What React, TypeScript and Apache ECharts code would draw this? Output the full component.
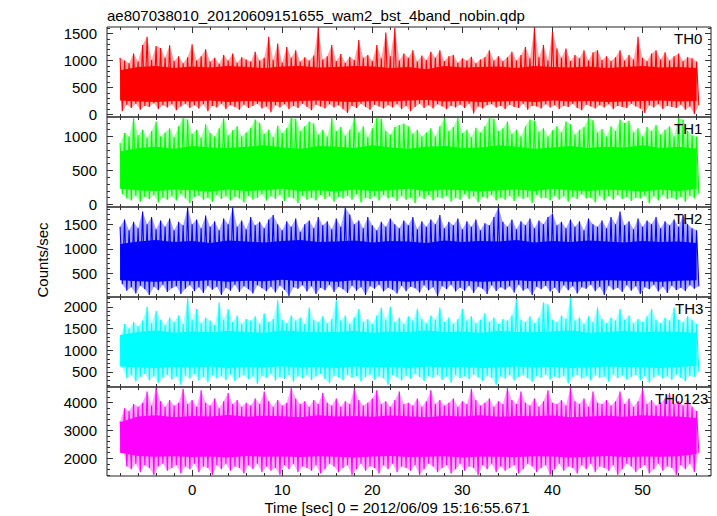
import React, { useEffect, useRef } from "react";
import * as echarts from "echarts";

const TITLE = "ae807038010_20120609151655_wam2_bst_4band_nobin.qdp";
const X_TITLE = "Time [sec] 0 = 2012/06/09 15:16:55.671";
const Y_TITLE = "Counts/sec";

// spike bins: first bin at -8 s, 0.5 s apart (peak at bin start, trough a quarter later)
const T_START = -8;
const T_STEP = 0.5;
// dense core band edges, read every 2 s
const CORE_START = -8;
const CORE_STEP = 2;

const X_MIN = -9.45;
const X_MAX = 57.6;
const X_TICKS = [0, 10, 20, 30, 40, 50];
const X_MINOR = [-8, -6, -4, -2, 2, 4, 6, 8, 12, 14, 16, 18, 22, 24, 26, 28, 32, 34, 36, 38, 42, 44, 46, 48, 52, 54, 56];

const BANDS = ["TH0", "TH1", "TH2", "TH3", "TH0123"];
const COLORS = ["#ff0000", "#00ff00", "#0000ff", "#00ffff", "#ff00ff"];
const Y_MIN = [-46, -37, 20, 150, 1360];
const Y_MAX = [1620, 1287, 1853, 2225, 4565];
const Y_TICKS = [
  [0, 500, 1000, 1500],
  [0, 500, 1000],
  [500, 1000, 1500],
  [500, 1000, 1500, 2000],
  [2000, 3000, 4000],
];
const Y_MINOR_STEP = [100, 100, 100, 100, 200];

const TH0_HI = [1050, 1000, 950, 1130, 980, 1285, 1440, 1010, 1270, 1230, 1050, 1280, 990, 1080, 950, 1060,
  1300, 1000, 1080, 1210, 980, 1050, 940, 1100, 1000, 1130, 960, 1060, 1020, 980, 1160, 1000,
  1050, 1440, 1010, 1315, 960, 1250, 1050, 1190, 980, 1060, 1000, 1090, 1606, 1020, 1080, 1285,
  990, 1120, 960, 1070, 1010, 1380, 1050, 1100, 990, 1285, 1040, 1520, 1080, 1606, 1000, 1130,
  1050, 1190, 980, 1090, 1010, 1160, 1050, 1190, 990, 1080, 1100, 960, 1040, 1000, 1070, 950,
  1020, 1060, 1190, 1000, 1080, 990, 1060, 1160, 1000, 1100, 1250, 1040, 1606, 1060, 1285, 1000,
  1530, 1220, 1050, 1220, 990, 1100, 1040, 1190, 1000, 1150, 1190, 1010, 1080, 990, 1060, 1190,
  1000, 1100, 1020, 1440, 1050, 990, 1130, 1190, 1020, 1150, 1000, 1080, 1130, 990, 1060, 1040, 980];
const TH0_LO = [60, 180, 120, 200, 90, 160, 140, 210, 100, 170, 130, 190, 80, 150, 200, 120,
  170, 110, 190, 60, 160, 130, 200, 100, 170, 140, 90, 180, 120, 160, 200, 110,
  150, 40, 170, 130, 190, 100, 160, 120, 200, 140, 80, 180, 150, 110, 190, 130,
  170, 100, 30, 160, 120, 200, 140, 90, 180, 150, 110, 170, 130, 190, 100, 160,
  60, 140, 200, 120, 170, 110, 190, 150, 100, 160, 130, 180, 120, 200, 20, 150,
  110, 170, 190, 130, 160, 100, 180, 140, 120, 200, 90, 160, 150, 110, 190, 130,
  170, 100, 160, 140, 200, 120, 80, 180, 150, 110, 170, 130, 190, 100, 160, 140,
  120, 200, 150, 110, 30, 170, 130, 190, 100, 160, 140, 120, 180, 90, 150, 10, 170];
const TH0_CORE_HI = [820, 880, 900, 860, 890, 870, 900, 880, 860, 890, 900, 870, 880, 900, 890, 860, 880,
  840, 900, 870, 880, 890, 860, 900, 880, 870, 890, 860, 880, 900, 870, 880, 860];
const TH0_CORE_LO = [260, 240, 230, 250, 240, 260, 230, 250, 240, 230, 250, 260, 240, 230, 250, 240, 260,
  270, 240, 250, 230, 240, 250, 230, 260, 240, 250, 230, 240, 250, 260, 240, 250];

const TH1_HI = [900, 1050, 1000, 1270, 1020, 1100, 980, 1080, 1220, 1000, 1060, 1120, 990, 1150, 1277, 1250,
  1040, 1100, 980, 1180, 1050, 1000, 1120, 1270, 1020, 1090, 1150, 1000, 1060, 1130, 1250, 1200,
  1040, 1100, 990, 1160, 1050, 1120, 1277, 1260, 1080, 1150, 1220, 1190, 1030, 1100, 1000, 1277,
  1080, 1140, 1010, 1100, 1270, 1060, 1150, 990, 1120, 1277, 1260, 1080, 1030, 1140, 1170, 1190,
  1150, 1040, 1100, 1000, 1060, 1120, 1000, 1150, 1270, 1080, 1140, 1277, 1050, 1100, 990, 1130,
  1060, 1150, 1277, 1260, 1080, 1120, 1220, 1040, 1100, 1000, 1150, 1250, 1230, 1070, 1120, 1000,
  1090, 1150, 1060, 1220, 1180, 1030, 1100, 1140, 1270, 1240, 1060, 1110, 1000, 1150, 1080, 1250,
  1200, 1230, 1060, 1120, 1000, 1140, 1080, 1170, 1030, 1100, 1150, 1000, 1270, 1250, 1080, 1020, 1000];
const TH1_LO = [150, 90, 60, 130, 40, 110, 80, 140, 30, 100, 70, 120, 60, 150, 90, 20,
  110, 130, 70, 100, 40, 140, 80, 120, 60, 110, 90, 30, 130, 70, 100, 150,
  60, 120, 80, 140, 50, 110, 90, 20, 130, 70, 100, 60, 140, 80, 120, 40,
  110, 90, 130, 70, 150, 30, 100, 80, 120, 60, 140, 90, 110, 50, 130, 70,
  100, 20, 120, 80, 140, 60, 110, 90, 130, 40, 100, 70, 150, 80, 120, 30,
  110, 90, 140, 60, 100, 70, 130, 50, 120, 80, 110, 20, 140, 90, 100, 60,
  130, 70, 120, 40, 110, 80, 150, 90, 100, 30, 130, 60, 120, 70, 140, 80,
  110, 50, 100, 90, 130, 20, 120, 60, 140, 80, 100, 70, 110, 40, 130, 90, 160];
const TH1_CORE_HI = [780, 830, 850, 820, 860, 840, 830, 850, 870, 840, 820, 860, 850, 830, 870, 840, 820,
  850, 860, 830, 840, 870, 850, 820, 840, 860, 830, 850, 840, 870, 830, 850, 820];
const TH1_CORE_LO = [230, 210, 200, 220, 210, 190, 220, 200, 210, 230, 200, 210, 190, 220, 200, 210, 230,
  200, 220, 210, 190, 210, 220, 200, 230, 210, 200, 220, 210, 190, 220, 200, 230];

const TH2_HI = [1450, 1600, 1380, 1550, 1420, 1760, 1500, 1650, 1400, 1580, 1450, 1620, 1380, 1550, 1480, 1843,
  1500, 1600, 1420, 1680, 1450, 1560, 1380, 1620, 1500, 1843, 1450, 1580, 1400, 1650, 1480, 1550,
  1420, 1600, 1690, 1500, 1380, 1560, 1450, 1620, 1350, 1500, 1580, 1420, 1650, 1480, 1560, 1400,
  1620, 1450, 1843, 1700, 1500, 1580, 1420, 1650, 1480, 1380, 1550, 1450, 1620, 1500, 1420, 1580,
  1480, 1650, 1400, 1560, 1450, 1600, 1500, 1690, 1420, 1550, 1480, 1620, 1400, 1560, 1450, 1600,
  1380, 1520, 1480, 1650, 1843, 1550, 1450, 1600, 1400, 1560, 1480, 1620, 1420, 1580, 1500, 1650,
  1720, 1480, 1550, 1420, 1600, 1450, 1560, 1380, 1620, 1500, 1450, 1580, 1420, 1650, 1500, 1760,
  1480, 1560, 1400, 1620, 1450, 1580, 1500, 1650, 1420, 1560, 1480, 1600, 1450, 1690, 1500, 1420, 1380];
const TH2_LO = [280, 150, 220, 90, 250, 180, 60, 230, 160, 270, 120, 200, 240, 80, 190, 260,
  140, 220, 100, 250, 170, 230, 60, 210, 150, 270, 120, 240, 180, 90, 260, 200,
  140, 230, 110, 250, 170, 40, 220, 190, 260, 130, 240, 80, 210, 160, 270, 120,
  230, 180, 100, 250, 150, 220, 60, 240, 190, 270, 130, 210, 170, 90, 250, 140,
  230, 200, 110, 260, 160, 220, 30, 240, 180, 270, 130, 210, 150, 250, 100, 230,
  190, 80, 260, 140, 220, 170, 240, 110, 270, 150, 200, 60, 230, 180, 250, 130,
  210, 100, 260, 160, 240, 90, 220, 190, 270, 140, 230, 60, 250, 170, 210, 120,
  260, 150, 240, 80, 220, 180, 270, 130, 230, 100, 250, 160, 210, 140, 260, 190, 240];
const TH2_CORE_HI = [1100, 1150, 1180, 1140, 1160, 1120, 1170, 1150, 1130, 1160, 1180, 1140, 1150, 1170, 1130, 1160, 1150,
  1120, 1170, 1140, 1160, 1150, 1180, 1130, 1160, 1140, 1170, 1150, 1130, 1160, 1140, 1150, 1120];
const TH2_CORE_LO = [360, 340, 330, 350, 340, 360, 330, 350, 340, 370, 340, 350, 330, 360, 340, 350, 330,
  360, 340, 350, 330, 340, 360, 340, 350, 330, 340, 360, 350, 340, 330, 350, 360];

const TH3_HI = [1270, 1600, 1500, 1650, 1550, 1680, 2000, 1620, 1900, 1700, 1580, 1750, 1650, 1800, 1600, 2205,
  1700, 1950, 1620, 1750, 1680, 1580, 2100, 1700, 1950, 1650, 1800, 1600, 1720, 1680, 1780, 1600,
  1850, 1650, 1720, 2150, 1700, 1620, 1800, 1680, 1750, 1600, 1980, 1700, 1650, 1780, 1620, 1720,
  2150, 1680, 1800, 1600, 1750, 1950, 1650, 1720, 1600, 1800, 1980, 1700, 2000, 1650, 1750, 1600,
  1780, 1680, 1950, 1720, 1620, 1800, 1700, 1980, 1650, 1750, 1600, 1720, 1950, 1680, 1780, 1620,
  1700, 1850, 1650, 1750, 1600, 1720, 1680, 1800, 2180, 1700, 1650, 1780, 1620, 1750, 2100, 2050,
  1700, 1650, 1800, 1720, 2205, 1680, 1750, 1600, 1780, 1650, 1980, 1720, 1620, 1750, 1680, 1950,
  1700, 1800, 1620, 1720, 1650, 1780, 1950, 1700, 1620, 1750, 1680, 1980, 1700, 1650, 1780, 1700, 1600];
const TH3_LO = [600, 350, 420, 280, 380, 450, 300, 400, 250, 360, 430, 320, 390, 200, 410, 340,
  450, 300, 380, 260, 420, 350, 400, 310, 440, 280, 370, 420, 330, 390, 220, 410,
  360, 450, 300, 380, 340, 430, 270, 400, 350, 420, 310, 390, 450, 330, 240, 410,
  370, 300, 430, 360, 400, 280, 380, 440, 320, 390, 350, 200, 420, 370, 300, 410,
  340, 450, 380, 290, 400, 360, 430, 310, 390, 250, 420, 350, 400, 330, 440, 370,
  290, 410, 360, 200, 390, 340, 430, 300, 380, 420, 350, 270, 400, 360, 440, 320,
  390, 350, 410, 230, 380, 430, 340, 400, 300, 420, 360, 390, 270, 440, 350, 410,
  320, 380, 430, 300, 400, 250, 370, 420, 340, 390, 310, 440, 360, 280, 410, 380, 500];
const TH3_CORE_HI = [1350, 1420, 1450, 1400, 1430, 1410, 1440, 1420, 1400, 1450, 1430, 1410, 1420, 1440, 1400, 1430, 1420,
  1450, 1410, 1430, 1400, 1440, 1420, 1410, 1430, 1450, 1400, 1420, 1440, 1410, 1430, 1420, 1400];
const TH3_CORE_LO = [620, 600, 590, 610, 600, 620, 590, 610, 600, 630, 600, 610, 590, 620, 600, 610, 590,
  620, 600, 610, 590, 600, 620, 600, 610, 590, 600, 620, 610, 600, 590, 610, 640];

const TH0123_HI = [3320, 3800, 3700, 3950, 3850, 4000, 4400, 3900, 4540, 4050, 3850, 4100, 3900, 4000, 4500, 3950,
  4100, 3850, 4450, 4000, 3900, 4150, 3800, 4050, 4350, 3950, 4100, 3850, 4000, 3900, 4150, 3950,
  4400, 4050, 3850, 4100, 3900, 4000, 4540, 4150, 3950, 4050, 3850, 4100, 3950, 4350, 4000, 3900,
  4150, 3850, 4050, 3950, 4500, 4100, 3900, 4000, 4150, 4450, 3950, 4050, 3850, 4100, 4400, 3950,
  4000, 3900, 4150, 3850, 4050, 4450, 3950, 4100, 3900, 4000, 4150, 3850, 4050, 3950, 4500, 4100,
  3900, 4000, 4150, 3850, 4050, 3950, 4540, 4100, 3950, 4400, 4000, 3900, 4150, 3850, 4050, 4450,
  4000, 3950, 4100, 3900, 4540, 4050, 3950, 4150, 3850, 4400, 4000, 3950, 4100, 3900, 4050, 4400,
  3950, 4150, 3850, 4050, 4500, 3950, 4100, 3900, 4000, 4150, 4350, 3950, 4050, 3900, 4150, 3850, 3700];
const TH0123_LO = [2400, 1700, 1600, 1800, 1500, 1750, 1650, 1400, 1700, 1800, 1550, 1650, 1750, 1450, 1700, 1600,
  1800, 1500, 1700, 1650, 1400, 1750, 1600, 1800, 1550, 1700, 1650, 1450, 1750, 1600, 1800, 1500,
  1700, 1550, 1650, 1400, 1750, 1600, 1800, 1500, 1700, 1650, 1550, 1750, 1450, 1600, 1800, 1700,
  1500, 1650, 1750, 1400, 1600, 1800, 1550, 1700, 1650, 1450, 1750, 1600, 1800, 1500, 1700, 1650,
  1550, 1750, 1400, 1600, 1800, 1700, 1500, 1650, 1750, 1450, 1600, 1800, 1550, 1700, 1650, 1400,
  1750, 1600, 1800, 1500, 1700, 1550, 1650, 1750, 1450, 1600, 1800, 1700, 1500, 1650, 1750, 1400,
  1600, 1800, 1550, 1700, 1650, 1450, 1750, 1600, 1800, 1500, 1700, 1650, 1550, 1750, 1400, 1600,
  1800, 1700, 1500, 1650, 1750, 1450, 1600, 1800, 1550, 1700, 1650, 1400, 1750, 1600, 1800, 1500, 2200];
const TH0123_CORE_HI = [3300, 3500, 3550, 3480, 3520, 3500, 3560, 3490, 3530, 3510, 3480, 3550, 3500, 3520, 3490, 3540, 3510,
  3480, 3530, 3500, 3550, 3490, 3520, 3510, 3540, 3480, 3500, 3530, 3490, 3550, 3510, 3500, 3450];
const TH0123_CORE_LO = [2200, 2080, 2050, 2070, 2040, 2060, 2030, 2080, 2050, 2060, 2040, 2070, 2050, 2030, 2060, 2080, 2040,
  2050, 2070, 2030, 2060, 2050, 2040, 2070, 2060, 2030, 2050, 2080, 2040, 2060, 2050, 2070, 2150];

const HI = [TH0_HI, TH1_HI, TH2_HI, TH3_HI, TH0123_HI];
const LO = [TH0_LO, TH1_LO, TH2_LO, TH3_LO, TH0123_LO];
const CORE_HI = [TH0_CORE_HI, TH1_CORE_HI, TH2_CORE_HI, TH3_CORE_HI, TH0123_CORE_HI];
const CORE_LO = [TH0_CORE_LO, TH1_CORE_LO, TH2_CORE_LO, TH3_CORE_LO, TH0123_CORE_LO];

const FONT = "'Liberation Sans', Arial, Helvetica, sans-serif";
const GRID_TOPS = [27, 117, 207, 297, 387];
const GRID_H = [90, 90, 90, 90, 89];
const GRID_LEFT = 107;
const GRID_W = 604;
const LABEL_X = [674, 674, 674, 675, 655];

function zigzag(hi: number[], lo: number[]) {
  const n = Math.min(hi.length, lo.length);
  const pts: number[][] = [];
  for (let i = 0; i < n; i++) {
    const t = T_START + i * T_STEP;
    pts.push([t, hi[i]]);
    pts.push([t + T_STEP / 2, lo[i]]);
  }
  return pts;
}

// polygon between an upper edge and a lower edge (each a list of [t, value])
function bandSeries(xIdx: number, yIdx: number, upper: number[][], lower: number[][], color: string, opacity: number, z: number) {
  const all = upper.concat(lower.slice().reverse());
  return {
    type: "custom", xAxisIndex: xIdx, yAxisIndex: yIdx, silent: true, z,
    data: [upper[0]],
    encode: { x: 0, y: 1 },
    clip: true,
    renderItem: (_params: any, api: any) => ({
      type: "polygon",
      shape: { points: all.map((p) => api.coord(p)) },
      style: { fill: color, opacity, stroke: "none" },
    }),
  };
}

function minorTicks(gi: number) {
  const step = Y_MINOR_STEP[gi];
  const out: number[] = [];
  for (let v = Math.ceil(Y_MIN[gi] / step) * step; v <= Y_MAX[gi]; v += step) {
    if (!Y_TICKS[gi].includes(v)) out.push(v);
  }
  return out;
}

export default function App() {
  const ref = useRef<HTMLDivElement>(null);
  useEffect(() => {
    if (!ref.current) return;
    const chart = echarts.init(ref.current, undefined, { renderer: "svg" });
    const grids: any[] = [];
    const xAxes: any[] = [];
    const yAxes: any[] = [];
    const series: any[] = [];
    const graphics: any[] = [];
    const tickColor = "#333";
    const fmt = (v: number) => String(v);
    BANDS.forEach((name, gi) => {
      grids.push({
        left: GRID_LEFT, top: GRID_TOPS[gi], width: GRID_W, height: GRID_H[gi],
        show: true, borderColor: "#222", borderWidth: 1, backgroundColor: "transparent",
      });
      const xBase = {
        type: "value", gridIndex: gi, min: X_MIN, max: X_MAX,
        splitLine: { show: false }, axisLine: { show: false, onZero: false },
      };
      const last = gi === BANDS.length - 1;
      const xIdx = xAxes.length;
      xAxes.push({
        ...xBase, position: "bottom",
        axisTick: { show: true, inside: true, length: 6, customValues: X_TICKS, lineStyle: { color: tickColor } },
        axisLabel: { show: last, customValues: X_TICKS, fontSize: 15, color: "#000", margin: 6, fontFamily: FONT, formatter: fmt },
      });
      xAxes.push({
        ...xBase, position: "bottom",
        axisTick: { show: true, inside: true, length: 3, customValues: X_MINOR, lineStyle: { color: tickColor } },
        axisLabel: { show: false },
      });
      xAxes.push({
        ...xBase, position: "top",
        axisTick: { show: true, inside: true, length: 6, customValues: X_TICKS, lineStyle: { color: tickColor } },
        axisLabel: { show: false },
      });
      xAxes.push({
        ...xBase, position: "top",
        axisTick: { show: true, inside: true, length: 3, customValues: X_MINOR, lineStyle: { color: tickColor } },
        axisLabel: { show: false },
      });
      const yBase = {
        type: "value", gridIndex: gi, min: Y_MIN[gi], max: Y_MAX[gi],
        splitLine: { show: false }, axisLine: { show: false, onZero: false },
      };
      const minors = minorTicks(gi);
      const yIdx = yAxes.length;
      yAxes.push({
        ...yBase, position: "left",
        axisTick: { show: true, inside: true, length: 6, customValues: Y_TICKS[gi], lineStyle: { color: tickColor } },
        axisLabel: { show: true, customValues: Y_TICKS[gi], fontSize: 15, color: "#000", margin: 10, fontFamily: FONT, formatter: fmt },
      });
      yAxes.push({
        ...yBase, position: "left",
        axisTick: { show: true, inside: true, length: 3, customValues: minors, lineStyle: { color: tickColor } },
        axisLabel: { show: false },
      });
      yAxes.push({
        ...yBase, position: "right",
        axisTick: { show: true, inside: true, length: 6, customValues: Y_TICKS[gi], lineStyle: { color: tickColor } },
        axisLabel: { show: false },
      });
      yAxes.push({
        ...yBase, position: "right",
        axisTick: { show: true, inside: true, length: 3, customValues: minors, lineStyle: { color: tickColor } },
        axisLabel: { show: false },
      });

      // light fringe between peak and trough envelopes
      const n = Math.min(HI[gi].length, LO[gi].length);
      const peakEdge: number[][] = [];
      const troughEdge: number[][] = [];
      for (let i = 0; i < n; i++) {
        const t = T_START + i * T_STEP;
        peakEdge.push([t, HI[gi][i]]);
        troughEdge.push([t + T_STEP / 2, LO[gi][i]]);
      }
      series.push(bandSeries(xIdx, yIdx, peakEdge, troughEdge, COLORS[gi], 0.35, 1));

      // dense core band
      const cn = Math.min(CORE_HI[gi].length, CORE_LO[gi].length);
      const coreUp: number[][] = [];
      const coreDown: number[][] = [];
      for (let i = 0; i < cn; i++) {
        const t = CORE_START + i * CORE_STEP;
        coreUp.push([t, CORE_HI[gi][i]]);
        coreDown.push([t, CORE_LO[gi][i]]);
      }
      series.push(bandSeries(xIdx, yIdx, coreUp, coreDown, COLORS[gi], 1, 2));

      series.push({
        name, type: "line", xAxisIndex: xIdx, yAxisIndex: yIdx,
        data: zigzag(HI[gi], LO[gi]), symbol: "none", showSymbol: false,
        lineStyle: { color: COLORS[gi], width: 1.1 }, itemStyle: { color: COLORS[gi] },
        clip: true, silent: true, z: 3,
      });
      graphics.push({
        type: "text", x: LABEL_X[gi], y: GRID_TOPS[gi] + 11, z: 10,
        style: { text: name, fill: "#000", font: `15px ${FONT}`, verticalAlign: "middle", align: "left" },
      });
    });
    graphics.push({
      type: "text", x: 107, y: 15,
      style: { text: TITLE, fill: "#000", font: `15px ${FONT}`, verticalAlign: "middle", align: "left" },
    });
    graphics.push({
      type: "text", x: 397, y: 507,
      style: { text: X_TITLE, fill: "#000", font: `15px ${FONT}`, verticalAlign: "middle", align: "center" },
    });
    graphics.push({
      type: "text", x: 42, y: 260, rotation: Math.PI / 2,
      style: { text: Y_TITLE, fill: "#000", font: `15px ${FONT}`, verticalAlign: "middle", align: "center" },
    });
    chart.setOption({
      animation: false,
      backgroundColor: "#fff",
      grid: grids,
      xAxis: xAxes,
      yAxis: yAxes,
      series,
      graphic: graphics,
    });
    return () => chart.dispose();
  }, []);
  return <div ref={ref} style={{ position: "fixed", left: 0, top: 0, width: 717, height: 516 }} />;
}
